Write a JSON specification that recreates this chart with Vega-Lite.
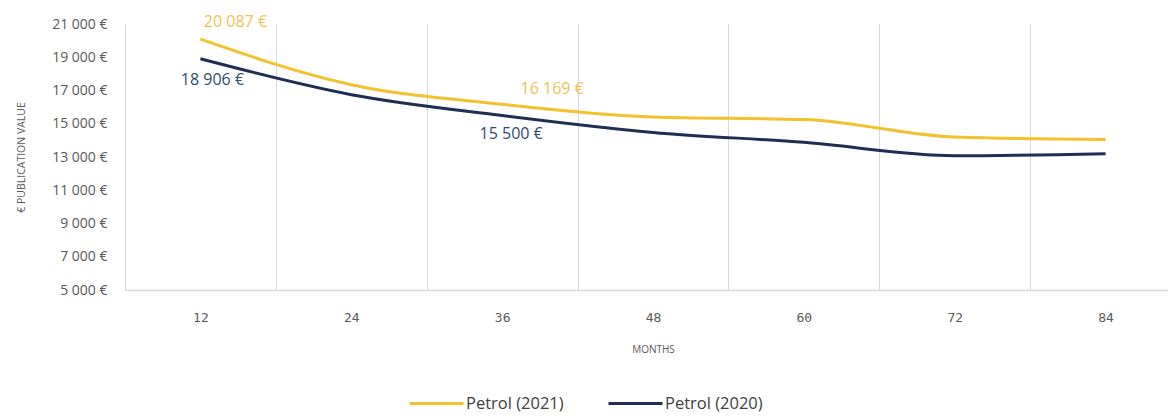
{
  "$schema": "https://vega.github.io/schema/vega-lite/v6.json",
  "autosize": "none",
  "padding": {"left": 125, "top": 24, "right": 0, "bottom": 129},
  "width": 1056,
  "height": 266,
  "background": "white",
  "config": {
    "view": {"stroke": null},
    "locale": {
      "number": {"decimal": ",", "thousands": " ", "grouping": [3], "currency": ["", " €"]}
    },
    "axis": {"labelColor": "#595959", "titleColor": "#595959"}
  },
  "data": {
    "values": [
      {"month": 12, "series": "Petrol (2021)", "value": 20087},
      {"month": 24, "series": "Petrol (2021)", "value": 17350},
      {"month": 36, "series": "Petrol (2021)", "value": 16169},
      {"month": 48, "series": "Petrol (2021)", "value": 15400},
      {"month": 60, "series": "Petrol (2021)", "value": 15250},
      {"month": 72, "series": "Petrol (2021)", "value": 14200},
      {"month": 84, "series": "Petrol (2021)", "value": 14050},
      {"month": 12, "series": "Petrol (2020)", "value": 18906},
      {"month": 24, "series": "Petrol (2020)", "value": 16750},
      {"month": 36, "series": "Petrol (2020)", "value": 15500},
      {"month": 48, "series": "Petrol (2020)", "value": 14480},
      {"month": 60, "series": "Petrol (2020)", "value": 13880},
      {"month": 72, "series": "Petrol (2020)", "value": 13080},
      {"month": 84, "series": "Petrol (2020)", "value": 13200}
    ]
  },
  "encoding": {
    "y": {
      "field": "value", "type": "quantitative",
      "scale": {"domain": [5000, 21000], "nice": false, "zero": false},
      "axis": {
        "values": [5000, 7000, 9000, 11000, 13000, 15000, 17000, 19000, 21000],
        "format": "$,.0f",
        "grid": false, "ticks": false, "domain": false,
        "labelFont": "Open Sans", "labelFontSize": 14, "labelPadding": 18,
        "title": "€ PUBLICATION VALUE", "titleFont": "Open Sans", "titleFontSize": 10.5,
        "titleFontWeight": "normal", "titlePadding": 25
      }
    }
  },
  "resolve": {"axis": {"x": "independent"}},
  "layer": [
    {
      "mark": {"type": "line", "interpolate": "monotone", "strokeWidth": 3},
      "encoding": {
        "x": {
          "field": "month", "type": "quantitative",
          "scale": {"domain": [6, 90], "nice": false, "zero": false},
          "axis": {
            "values": [12, 24, 36, 48, 60, 72, 84],
            "grid": false, "ticks": false,
            "domainColor": "#D9D9D9", "domainWidth": 1.5,
            "labelFont": "DejaVu Sans Mono", "labelFontSize": 13, "labelPadding": 21,
            "title": "MONTHS", "titleFont": "Open Sans", "titleFontSize": 10,
            "titleFontWeight": "normal", "titlePadding": 20
          }
        },
        "color": {
          "field": "series", "type": "nominal",
          "sort": ["Petrol (2021)", "Petrol (2020)"],
          "scale": {"domain": ["Petrol (2021)", "Petrol (2020)"], "range": ["#F2C12E", "#1F2F54"]},
          "legend": {
            "title": null, "orient": "none", "direction": "horizontal",
            "legendX": 283, "legendY": 351,
            "symbolType": "stroke", "symbolSize": 2916, "symbolStrokeWidth": 3,
            "labelFont": "Open Sans", "labelFontSize": 16.5, "labelColor": "#404040",
            "labelOffset": 1, "columnPadding": 38
          }
        }
      }
    },
    {
      "transform": [{"filter": "datum.series == 'Petrol (2021)' && datum.month == 12"}],
      "mark": {"type": "text", "font": "Open Sans", "fontSize": 16, "color": "#EBC450", "dx": 35, "dy": -17},
      "encoding": {
        "x": {
          "field": "month", "type": "quantitative",
          "axis": {
            "values": [6, 18, 30, 42, 54, 66, 78, 90],
            "labels": false, "ticks": false, "domain": false, "title": null,
            "grid": true, "gridColor": "#D9D9D9", "gridWidth": 1
          }
        },
        "text": {"field": "value", "type": "quantitative", "format": "$,.0f"}
      }
    },
    {
      "transform": [{"filter": "datum.series == 'Petrol (2020)' && datum.month == 12"}],
      "mark": {"type": "text", "font": "Open Sans", "fontSize": 16, "color": "#2F4A70", "dx": 12, "dy": 21},
      "encoding": {
        "x": {"field": "month", "type": "quantitative", "axis": null},
        "text": {"field": "value", "type": "quantitative", "format": "$,.0f"}
      }
    },
    {
      "transform": [{"filter": "datum.series == 'Petrol (2021)' && datum.month == 36"}],
      "mark": {"type": "text", "font": "Open Sans", "fontSize": 16, "color": "#EBC450", "dx": 50, "dy": -15},
      "encoding": {
        "x": {"field": "month", "type": "quantitative", "axis": null},
        "text": {"field": "value", "type": "quantitative", "format": "$,.0f"}
      }
    },
    {
      "transform": [{"filter": "datum.series == 'Petrol (2020)' && datum.month == 36"}],
      "mark": {"type": "text", "font": "Open Sans", "fontSize": 16, "color": "#2F4A70", "dx": 9, "dy": 19},
      "encoding": {
        "x": {"field": "month", "type": "quantitative", "axis": null},
        "text": {"field": "value", "type": "quantitative", "format": "$,.0f"}
      }
    }
  ]
}
